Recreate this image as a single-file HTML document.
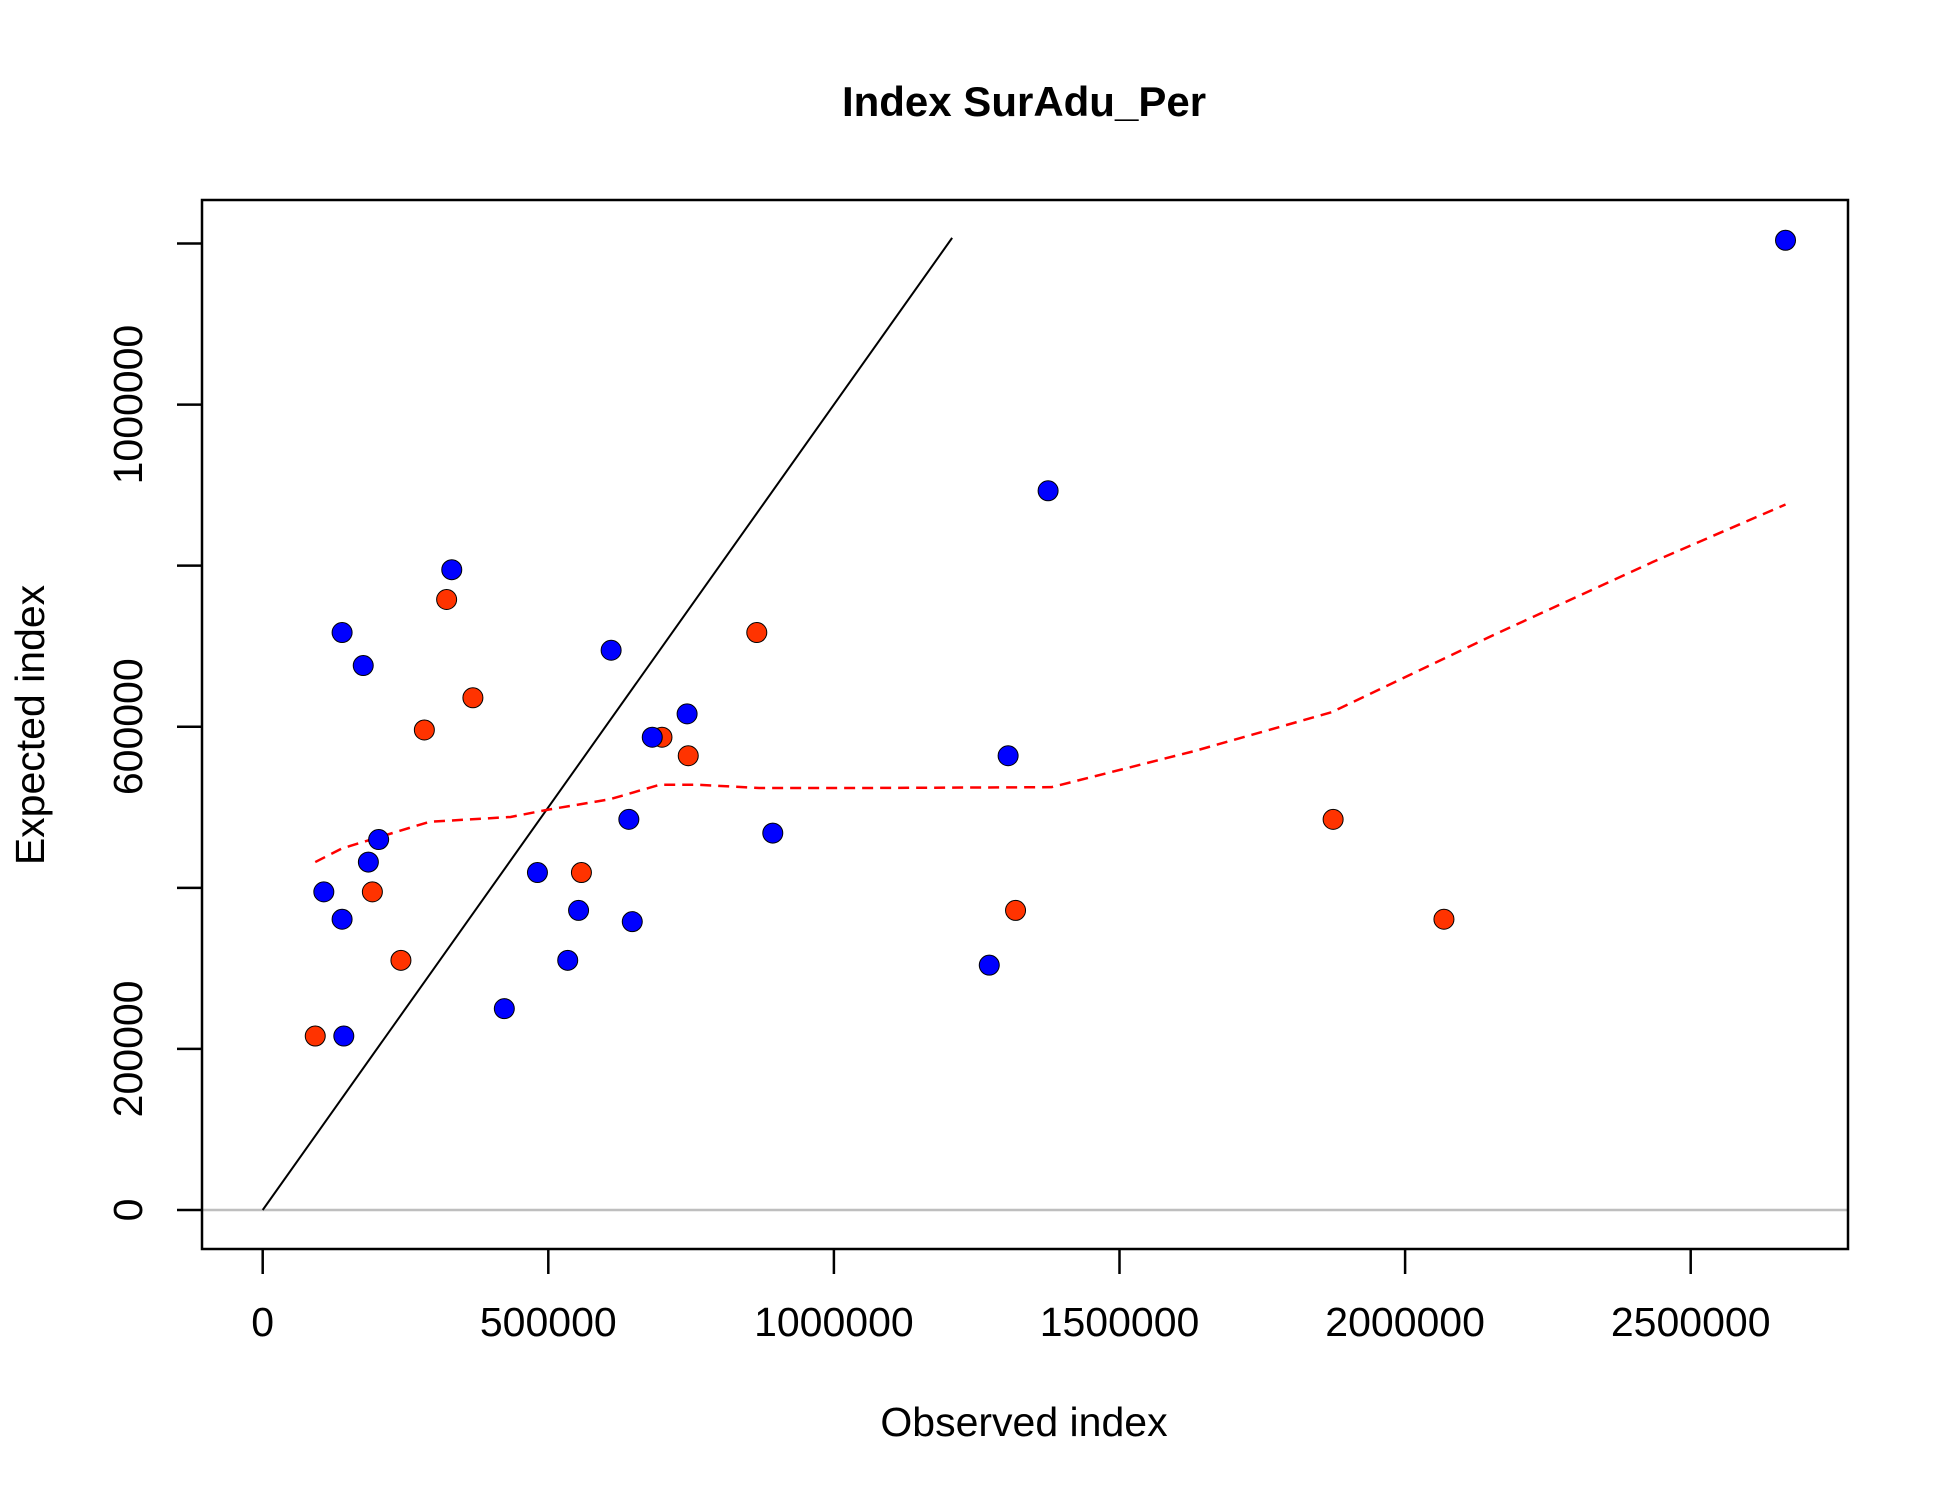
<!DOCTYPE html>
<html><head><meta charset="utf-8"><style>
html,body{margin:0;padding:0;background:#fff;}
svg{display:block;font-family:"Liberation Sans",Arial,sans-serif;}
</style></head><body>
<svg id="chart" width="1950" height="1500" viewBox="0 0 1950 1500"></svg>
<script>
const blueX=[2666,1375,331,139,176,610,743,682,1305,641,893,203,185,481,107,553,139,647,534,1272,423,142];
const blueY=[1204,893,795,717,676,695,616,587,564,485,468,460,432,419,395,372,361,358,310,304,250,216];
const redX=[322,865,368,283,699,745,1874,558,192,1318,2068,242,92];
const redY=[758,717,636,596,587,564,485,419,395,372,361,310,216];
const loessX=[92,139,292,434,499,608,695,760,869,1065,1381,1632,1871,2155,2438,2666];
const loessY=[432,449,482,488,497,510,528,528,524,524,525,570,618,714,806,876];
const xTicks=[0,500000,1000000,1500000,2000000,2500000];
const yTicks=[0,200000,600000,1000000];
const yMinor=[400000,800000,1200000];
const refLineEnd=1207; // thousands

const NS="http://www.w3.org/2000/svg";
const svg=document.getElementById('chart');
const L=202,R=1848,T=200,B=1249;
const X0=262.7,XPER=(1690.7-262.7)/2500000;
const Y0=1210,YPER=(1210-404.6)/1000000;
const sx=v=>X0+v*XPER, sy=v=>Y0-v*YPER;
function el(tag,attrs,parent){const e=document.createElementNS(NS,tag);for(const k in attrs)e.setAttribute(k,attrs[k]);(parent||svg).appendChild(e);return e;}

let t=el('text',{x:1024,y:116,'text-anchor':'middle','font-size':42,'font-weight':'bold'});t.textContent='Index SurAdu_Per';



let g=el('line',{x1:L,x2:R,y1:sy(0),y2:sy(0),stroke:'#bebebe','stroke-width':2.5});



let rl=el('line',{x1:sx(0),y1:sy(0),x2:sx(refLineEnd*1000),y2:sy(refLineEnd*1000),stroke:'#000','stroke-width':2});



let pts=loessX.map((v,i)=>sx(v*1000)+','+sy(loessY[i]*1000)).join(' ');
let lo=el('polyline',{points:pts,fill:'none',stroke:'#ff0000','stroke-width':2.5,'stroke-dasharray':'11,7'});



redX.forEach((v,i)=>{const c=el('circle',{cx:sx(v*1000),cy:sy(redY[i]*1000),r:10,fill:'#ff3300',stroke:'#000','stroke-width':1});

});
blueX.forEach((v,i)=>{const c=el('circle',{cx:sx(v*1000),cy:sy(blueY[i]*1000),r:10,fill:'#0000ff',stroke:'#000','stroke-width':1});

});

let box=el('rect',{x:L,y:T,width:R-L,height:B-T,fill:'none',stroke:'#000','stroke-width':2.5});



xTicks.forEach(v=>{el('line',{x1:sx(v),x2:sx(v),y1:B,y2:B+25,stroke:'#000','stroke-width':2.5});
const tx=el('text',{x:sx(v),y:1336,'text-anchor':'middle','font-size':41});tx.textContent=String(v);

});
[...yTicks,...yMinor].forEach(v=>el('line',{x1:L-25,x2:L,y1:sy(v),y2:sy(v),stroke:'#000','stroke-width':2.5}));
yTicks.forEach(v=>{const tx=el('text',{x:0,y:0,'text-anchor':'middle','font-size':41,transform:`translate(142,${sy(v)}) rotate(-90)`});tx.textContent=String(v);

});

let xl=el('text',{x:1024,y:1436,'text-anchor':'middle','font-size':41});xl.textContent='Observed index';


let yl=el('text',{x:0,y:0,'text-anchor':'middle','font-size':41,transform:'translate(44,725) rotate(-90)'});yl.textContent='Expected index';


</script>
</body></html>
